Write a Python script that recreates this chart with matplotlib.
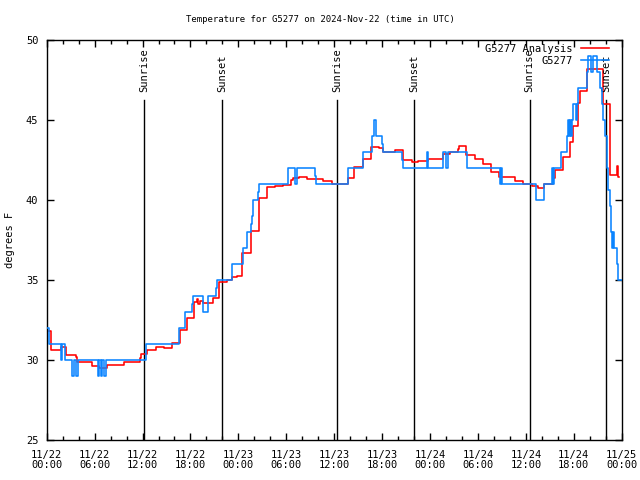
import matplotlib
matplotlib.use('Agg')
import matplotlib.pyplot as plt
from matplotlib.ticker import MultipleLocator

# hours since 2024-11-22 00:00 UTC
obs_hours = [0.0, 0.29, 1.75, 1.88, 2.29, 3.21, 3.42, 3.63, 3.95, 6.43, 6.55, 6.77, 6.97, 7.17, 7.46,
             12.4, 16.6, 17.32, 18.18, 18.29, 19.61, 20.24, 21.21, 21.29, 23.17, 24.54, 25.12, 25.55,
             25.67, 25.8, 25.87, 26.5, 26.63, 30.25, 31.09, 31.31, 33.6, 33.72, 37.77, 39.65, 40.7,
             40.99, 41.2, 41.95, 42.07, 44.45, 44.58, 47.66, 47.78, 49.67, 50.0, 50.29, 52.6, 56.76,
             56.89, 56.98, 61.24, 62.27, 63.29, 63.38, 63.47, 64.36, 65.11, 65.31, 65.44, 65.57, 65.65,
             65.81, 65.94, 66.31, 66.41, 66.57, 67.62, 67.82, 68.16, 68.41, 68.87, 69.28, 69.49, 69.66,
             69.91, 70.12, 70.32, 70.54, 70.7, 70.75, 70.88, 71.08, 71.38, 71.58, 72.0]
obs_temp = [32, 31, 30, 31, 30, 29, 30, 29, 30, 29, 30, 29, 30, 29, 30,
            31, 32, 33, 33.5, 34, 33, 34, 34.5, 35, 36, 37, 38, 38.5,
            39, 39.5, 40, 40.5, 41, 42, 41, 42, 41.5, 41, 42, 43, 44,
            45, 44, 43.5, 43, 42.5, 42, 43, 42, 43, 42, 43, 42, 41,
            42, 41, 40, 41, 42, 41, 42, 43, 44, 45, 44, 45, 44,
            45, 46, 45, 46, 47, 48, 49, 48, 49, 48, 47, 46, 45,
            44, 42, 40.6, 39.6, 38, 37, 38, 37, 36, 35, 35]

ana_hours = [0.0, 0.58, 1.75, 2.42, 3.63, 3.84, 5.71, 6.55, 7.59, 9.69, 11.69, 11.85, 12.6, 13.65,
             14.69, 15.66, 16.69, 17.53, 18.49, 18.82, 18.91, 19.2, 19.54, 20.79, 21.61, 22.62, 23.17,
             23.8, 24.49, 25.55, 26.63, 27.62, 28.59, 29.63, 30.55, 30.88, 31.6, 32.56, 34.64, 35.69,
             37.57, 37.77, 38.53, 39.57, 40.61, 41.65, 42.15, 42.65, 43.62, 44.58, 45.7, 46.54, 47.78,
             49.59, 50.5, 51.54, 51.67, 52.51, 53.63, 54.68, 55.63, 56.64, 58.65, 59.61, 60.74, 61.56,
             62.27, 63.44, 63.66, 64.61, 65.53, 65.87, 66.57, 66.78, 67.62, 69.63, 70.54, 71.38, 71.58,
             71.66]
ana_temp = [31.8, 30.6, 30.8, 30.3, 30.2, 29.9, 29.6, 29.5, 29.7, 29.9, 30.1, 30.4, 30.6, 30.83,
            30.77, 31.04, 31.9, 32.6, 33.65, 33.8, 33.5, 33.7, 33.55, 33.85, 34.9, 35.0, 35.2,
            35.27, 36.7, 38.06, 40.1, 40.8, 40.9, 40.94, 41.25, 41.35, 41.46, 41.3, 41.19, 40.98,
            41.0, 41.35, 42.04, 42.56, 43.33, 43.23, 43.02, 43.0, 43.1, 42.5, 42.4, 42.44, 42.54,
            42.85, 43.0, 43.17, 43.38, 42.8, 42.54, 42.23, 41.73, 41.42, 41.19, 41.0, 40.87, 40.73,
            41.0, 41.35, 41.9, 42.7, 43.65, 44.6, 46.04, 46.8, 48.2, 46.0, 41.56, 42.1, 41.45,
            41.45]

sun_hours = [12.23, 21.95, 36.36, 46.03, 60.48, 70.03]
sun_labels = ["Sunrise", "Sunset", "Sunrise", "Sunset", "Sunrise", "Sunset"]

tick_hours = [0, 6, 12, 18, 24, 30, 36, 42, 48, 54, 60, 66, 72]
tick_labels = ["11/22\n00:00", "11/22\n06:00", "11/22\n12:00", "11/22\n18:00",
               "11/23\n00:00", "11/23\n06:00", "11/23\n12:00", "11/23\n18:00",
               "11/24\n00:00", "11/24\n06:00", "11/24\n12:00", "11/24\n18:00",
               "11/25\n00:00"]
y_ticks = [25, 30, 35, 40, 45, 50]

plt.rcParams['font.family'] = 'DejaVu Sans Mono'

fig = plt.figure(figsize=(6.4, 4.8), dpi=100)
ax = fig.add_axes([46.7 / 640, 40 / 480, 575 / 640, 400 / 480])

# Sunrise / sunset markers
for h, lab in zip(sun_hours, sun_labels):
    ax.plot([h, h], [25, 46.25], color='black', lw=1.0, zorder=1)
    ax.text(h, 46.75, lab, rotation=90, ha='center', va='bottom', fontsize=7.5)

ax.plot(ana_hours, ana_temp, drawstyle='steps-post', color='#ff0000', lw=1.15,
        label='G5277 Analysis', zorder=2)
ax.plot(obs_hours, obs_temp, drawstyle='steps-post', color='#0a84ff', lw=1.15,
        label='G5277', zorder=3)

ax.set_xlim(0, 72)
ax.set_ylim(25, 50)
ax.set_xticks(tick_hours)
ax.set_xticklabels(tick_labels, linespacing=1.05)
ax.xaxis.set_minor_locator(MultipleLocator(2))
ax.set_yticks(y_ticks)
ax.tick_params(which='both', direction='in', top=True, right=True, labelsize=7.5, width=1)
ax.tick_params(which='major', length=5)
ax.tick_params(which='minor', length=3)
ax.tick_params(axis='x', pad=7)
ax.tick_params(axis='y', pad=6)
for sp in ax.spines.values():
    sp.set_linewidth(1)

ax.legend(loc='upper right', bbox_to_anchor=(0.978, 0.99), frameon=False, markerfirst=False,
          fontsize=7.5, handlelength=2.7, handletextpad=0.8, labelspacing=0.15, borderpad=0,
          borderaxespad=0)

fig.text(0.5, 1 - 19 / 480, "Temperature for G5277 on 2024-Nov-22 (time in UTC)",
         ha='center', va='center', fontsize=6.5)
fig.text(10 / 640, 240 / 480, "degrees F", rotation=90, ha='center', va='center', fontsize=7.5)

plt.savefig('out.png', dpi=100)
plt.close()
